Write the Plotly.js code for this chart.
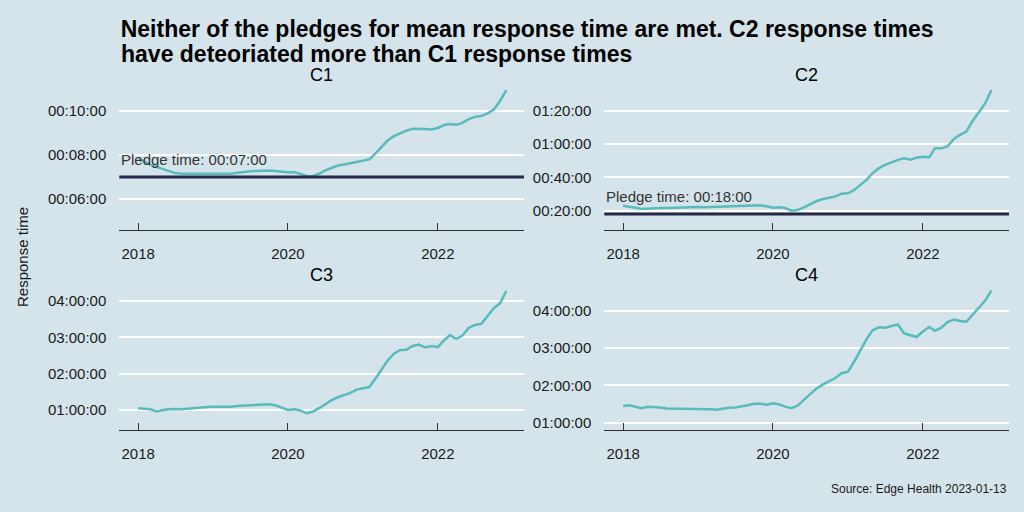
<!DOCTYPE html>
<html>
<head>
<meta charset="utf-8">
<script src="https://cdn.plot.ly/plotly-3.0.1.min.js"></script>
<style>
  html, body { margin: 0; padding: 0; background: #d5e4eb; }
  #chart { width: 1024px; height: 512px; }
</style>
</head>
<body>
<div id="chart"></div>
<script>
// monthly mean response times, Jan 2018 - Dec 2022, in minutes
const months = [
  '2018-01','2018-02','2018-03','2018-04','2018-05','2018-06','2018-07','2018-08','2018-09','2018-10','2018-11','2018-12',
  '2019-01','2019-02','2019-03','2019-04','2019-05','2019-06','2019-07','2019-08','2019-09','2019-10','2019-11','2019-12',
  '2020-01','2020-02','2020-03','2020-04','2020-05','2020-06','2020-07','2020-08','2020-09','2020-10','2020-11','2020-12',
  '2021-01','2021-02','2021-03','2021-04','2021-05','2021-06','2021-07','2021-08','2021-09','2021-10','2021-11','2021-12',
  '2022-01','2022-02','2022-03','2022-04','2022-05','2022-06','2022-07','2022-08','2022-09','2022-10','2022-11','2022-12'
];

const c1 = [
  7.80, 7.70, 7.55, 7.45, 7.35, 7.25, 7.18, 7.15, 7.15, 7.14, 7.13, 7.14,
  7.12, 7.13, 7.12, 7.15, 7.20, 7.24, 7.26, 7.28, 7.30, 7.30, 7.28, 7.24,
  7.22, 7.23, 7.15, 7.05, 7.04, 7.15, 7.30, 7.42, 7.52, 7.57, 7.62, 7.68,
  7.74, 7.80, 8.05, 8.38, 8.65, 8.85, 8.98, 9.10, 9.18, 9.19, 9.17, 9.15,
  9.22, 9.35, 9.40, 9.36, 9.45, 9.62, 9.72, 9.76, 9.88, 10.05, 10.45, 10.93
];
const c2 = [
  23.0, 22.5, 21.7, 21.0, 21.3, 21.4, 21.6, 21.6, 21.8, 21.9, 22.0, 22.1,
  22.2, 22.1, 22.2, 22.3, 22.5, 22.6, 22.6, 22.8, 23.0, 23.3, 23.2, 22.6,
  21.8, 22.0, 21.6, 20.0, 20.4, 22.0, 24.0, 25.8, 27.0, 27.8, 28.6, 30.2,
  30.4, 32.5, 35.5, 38.5, 42.5, 45.5, 47.5, 49.0, 50.5, 51.4, 50.6, 51.8,
  52.4, 52.0, 57.5, 57.4, 58.6, 63.0, 65.5, 67.5, 74.0, 79.0, 84.5, 92.4
];
const c3 = [
  63.0, 62.4, 61.2, 57.6, 60.0, 61.2, 61.8, 61.2, 62.4, 63.6, 64.2, 64.8,
  65.4, 65.4, 64.2, 65.4, 66.6, 67.2, 67.2, 67.2, 68.4, 69.6, 67.8, 64.2,
  60.0, 61.2, 59.4, 54.6, 57.0, 63.0, 70.2, 76.2, 81.0, 84.6, 88.2, 93.6,
  96.0, 97.8, 111.0, 126.0, 141.6, 153.0, 159.0, 159.6, 165.6, 168.0, 163.2, 165.6,
  163.8, 175.2, 183.6, 177.6, 183.0, 195.6, 200.4, 202.2, 216.0, 228.0, 236.4, 256.8
];
const c4 = [
  87.0, 88.2, 85.8, 83.4, 85.8, 85.8, 84.6, 82.8, 82.8, 82.8, 82.8, 82.8,
  82.8, 82.2, 81.6, 81.0, 82.8, 84.0, 84.6, 85.8, 88.2, 90.6, 90.6, 88.8,
  91.2, 89.4, 85.8, 83.4, 87.6, 97.2, 106.8, 115.2, 121.8, 126.6, 132.0, 139.8,
  142.2, 159.0, 176.4, 194.4, 208.8, 213.6, 213.0, 216.0, 218.4, 204.0, 200.4, 198.0,
  207.0, 214.2, 208.2, 213.0, 222.0, 226.2, 223.8, 222.6, 234.0, 244.8, 256.8, 273.0
];

const panelNames = ['C1', 'C2', 'C3', 'C4'];
const series = [c1, c2, c3, c4];
const pledges = [7, 18, null, null];
const yTicks = [[6, 8, 10], [20, 40, 60, 80], [60, 120, 180, 240], [60, 120, 180, 240]];
const xTicks = ['2018-01-01', '2020-01-01', '2022-01-01'];
const xTickText = ['2018', '2020', '2022'];
const titleLines = [
  'Neither of the pledges for mean response time are met. C2 response times',
  'have deteoriated more than C1 response times'
];

const font = 'Liberation Sans, Arial, sans-serif';
const bg = '#d5e4eb';

function hms(min) {
  const s = Math.round(min * 60);
  const p = n => String(n).padStart(2, '0');
  return p(Math.floor(s / 3600)) + ':' + p(Math.floor(s % 3600 / 60)) + ':' + p(s % 60);
}

// panel geometry
const xDomains = [[0.1165, 0.5117], [0.5901, 0.9854], [0.1165, 0.5117], [0.5901, 0.9854]];
const yDomains = [[0.5508, 0.8340], [0.5508, 0.8340], [0.1596, 0.4434], [0.1596, 0.4434]];
const yRanges = [[4.61, 11.16], [8.42, 95.4], [26.5, 266.4], [47.75, 281.9]];
const xRange = ['2017-10-01', '2023-02-25'];

const traces = series.map((vals, i) => ({
  x: months,
  y: vals,
  xaxis: 'x' + (i ? i + 1 : ''),
  yaxis: 'y' + (i ? i + 1 : ''),
  type: 'scatter',
  mode: 'lines',
  line: { color: '#58bbbd', width: 2.5 },
  hoverinfo: 'skip'
}));

const layout = {
  width: 1024,
  height: 512,
  margin: { l: 0, r: 0, t: 0, b: 0 },
  paper_bgcolor: bg,
  plot_bgcolor: bg,
  showlegend: false,
  font: { family: font, color: '#1a1a1a' },
  // line 1 of the title here, line 2 as an annotation (tighter line spacing)
  title: {
    text: '<b>' + titleLines[0] + '</b>',
    font: { size: 23, family: font, color: '#000' },
    xref: 'paper', x: 0.1179, xanchor: 'left',
    yref: 'container', y: 1 - 29 / 512, yanchor: 'middle'
  },
  shapes: [],
  annotations: [
    {
      text: '<b>' + titleLines[1] + '</b>', showarrow: false,
      xref: 'paper', yref: 'paper', x: 0.1179 - 2 / 1024, y: 1 - 54 / 512,
      xanchor: 'left', yanchor: 'middle',
      font: { size: 23, family: font, color: '#000' }
    },
    {
      text: 'Response time', textangle: -90, showarrow: false,
      xref: 'paper', yref: 'paper', x: 22 / 1024, y: 1 - 257 / 512,
      xanchor: 'center', yanchor: 'middle',
      font: { size: 15, family: font, color: '#1a1a1a' }
    },
    {
      text: 'Source: Edge Health 2023-01-13', showarrow: false,
      xref: 'paper', yref: 'paper', x: 1009 / 1024, y: 1 - 489 / 512,
      xanchor: 'right', yanchor: 'middle',
      font: { size: 12, family: font, color: '#1a1a1a' }
    }
  ]
};

panelNames.forEach((name, i) => {
  const sfx = i ? String(i + 1) : '';
  layout['xaxis' + sfx] = {
    type: 'date',
    domain: xDomains[i],
    range: xRange,
    anchor: 'y' + sfx,
    tickmode: 'array',
    tickvals: xTicks,
    ticktext: xTickText,
    ticks: 'inside',
    ticklen: 7,
    tickwidth: 1,
    tickcolor: '#333',
    showline: true,
    linecolor: '#333',
    linewidth: 1,
    showgrid: false,
    zeroline: false,
    ticklabelstandoff: 10,
    tickfont: { size: 15, family: font, color: '#1a1a1a' },
    fixedrange: true
  };
  layout['yaxis' + sfx] = {
    domain: yDomains[i],
    range: yRanges[i],
    anchor: 'x' + sfx,
    tickmode: 'array',
    tickvals: yTicks[i],
    ticktext: yTicks[i].map(hms),
    ticks: '',
    showline: false,
    showgrid: true,
    gridcolor: '#ffffff',
    gridwidth: 2,
    zeroline: false,
    ticklabelstandoff: 12,
    tickfont: { size: 15, family: font, color: '#1a1a1a' },
    fixedrange: true
  };

  const xd = xDomains[i], yd = yDomains[i];
  layout.annotations.push({
    text: name, showarrow: false,
    xref: 'paper', yref: 'paper',
    x: (xd[0] + xd[1]) / 2, y: yd[1] + 10 / 512,
    xanchor: 'center', yanchor: 'middle',
    font: { size: 18, family: font, color: '#000' }
  });

  if (pledges[i] !== null) {
    layout.shapes.push({
      type: 'line',
      xref: 'x' + sfx + ' domain', x0: 0, x1: 1,
      yref: 'y' + sfx, y0: pledges[i], y1: pledges[i],
      line: { color: '#272848', width: 3 }
    });
    layout.annotations.push({
      text: 'Pledge time: ' + hms(pledges[i]), showarrow: false,
      xref: 'x' + sfx + ' domain', x: 0, xanchor: 'left',
      yref: 'y' + sfx, y: pledges[i], yanchor: 'bottom', yshift: 7,
      font: { size: 15, family: font, color: '#333' }
    });
  }
});

Plotly.newPlot('chart', traces, layout, { displayModeBar: false, staticPlot: true });
</script>
</body>
</html>
